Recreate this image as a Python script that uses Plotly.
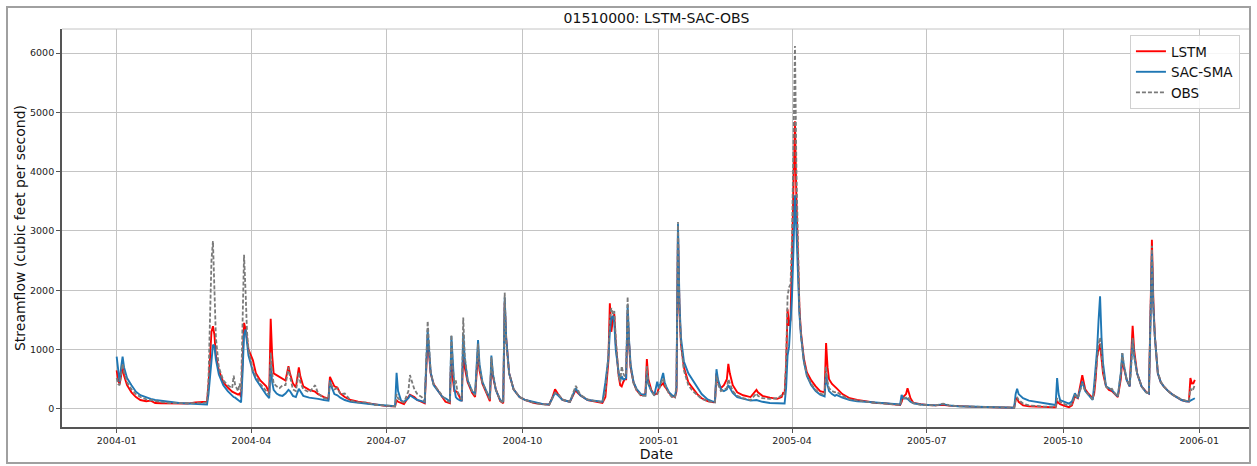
import plotly.graph_objects as go

# ---- daily streamflow, station 01510000 (cfs) ----
# 2004 (month-day), LSTM simulation, SAC-SMA simulation, observed
days_2004 = [
    "01-01", "01-02", "01-03", "01-04", "01-05", "01-06", "01-08", "01-11", "01-14", "01-17",
    "01-21", "01-24", "01-27", "01-31", "02-06", "02-12", "02-18", "02-23", "02-28", "03-02",
    "03-03", "03-04", "03-05", "03-06", "03-07", "03-08", "03-10", "03-13", "03-16", "03-19",
    "03-20", "03-21", "03-23", "03-24", "03-25", "03-26", "03-27", "03-28", "03-29", "03-30",
    "04-01", "04-02", "04-04", "04-07", "04-11", "04-13", "04-14", "04-15", "04-16", "04-18",
    "04-20", "04-22", "04-24", "04-26", "04-27", "04-29",
    "05-01", "05-03", "05-04", "05-06", "05-10", "05-14", "05-16", "05-20", "05-23", "05-24",
    "05-25", "05-27", "05-29", "05-31", "06-03", "06-07", "06-12", "06-17", "06-23", "06-29",
    "07-05", "07-07", "07-08", "07-09", "07-11", "07-13", "07-16", "07-17", "07-20", "07-22",
    "07-25", "07-27", "07-29", "07-30", "07-31",
    "08-02", "08-05", "08-08", "08-10", "08-13", "08-14", "08-15", "08-16", "08-17", "08-18",
    "08-20", "08-21", "08-22", "08-23", "08-25", "08-28", "08-30",
    "09-01", "09-02", "09-04", "09-07", "09-09", "09-10", "09-11", "09-13", "09-16", "09-18",
    "09-19", "09-20", "09-22", "09-25", "09-29", "10-03", "10-09", "10-15", "10-19", "10-21",
    "10-23", "10-25", "10-28",
    "11-02", "11-06", "11-07", "11-09", "11-14", "11-19", "11-24", "11-26", "11-27", "11-28",
    "11-29", "11-30",
    "12-01", "12-02", "12-03", "12-04", "12-05", "12-06", "12-07", "12-08", "12-09", "12-10",
    "12-11", "12-12", "12-13", "12-15", "12-17", "12-20", "12-23", "12-24", "12-25", "12-27",
    "12-29", "12-31",
]
lstm_2004 = [
    650, 480, 420, 560, 700, 560, 400, 280, 200, 150,
    130, 140, 100, 95, 90, 85, 90, 110, 115, 120,
    400, 900, 1300, 1395, 1250, 900, 650, 450, 360, 290,
    280, 270, 240, 260, 200, 800, 1450, 1350, 1150, 1000,
    880, 820, 600, 480, 380, 270, 1520, 900, 600, 570,
    550, 520, 480, 720, 600, 430,
    360, 700, 550, 380, 320, 290, 250, 200, 170, 540,
    480, 380, 360, 260, 200, 150, 120, 100, 75, 55,
    45, 45, 150, 120, 100, 80, 200, 240, 200, 150,
    120, 95, 1200, 900, 600,
    420, 300, 180, 120, 95, 1000, 500, 300, 300, 280,
    180, 130, 1000, 700, 450, 270, 200,
    950, 650, 420, 250, 130, 790, 550, 330, 130, 95,
    1790, 1200, 600, 330, 200, 150, 100, 80, 70, 180,
    330, 250, 150,
    120, 320, 280, 230, 150, 120, 100, 200, 500, 800,
    1780, 1300,
    1500, 1600, 1100, 800, 550, 400, 380, 450, 500, 500,
    1620, 1100, 700, 450, 320, 230, 250, 840, 500, 320,
    240, 260,
]
sac_2004 = [
    880, 600, 450, 700, 880, 700, 520, 400, 290, 230,
    190, 170, 150, 135, 115, 100, 90, 80, 75, 75,
    250, 550, 900, 1080, 1060, 830, 580, 400, 300, 220,
    200, 190, 150, 140, 110, 600, 1250, 1340, 1100, 900,
    720, 620, 500, 380, 240, 180, 750, 450, 320, 260,
    230, 220, 260, 320, 300, 220,
    200, 340, 300, 220, 190, 180, 170, 150, 140, 480,
    380, 250, 230, 190, 150, 120, 100, 90, 75, 60,
    45, 45, 610, 300, 140, 120, 180, 230, 180, 150,
    130, 110, 1330, 950, 620,
    400, 300, 200, 180, 130, 1230, 700, 350, 200, 170,
    140, 140, 1270, 850, 480, 300, 250,
    1160, 750, 450, 280, 180, 900, 600, 320, 150, 120,
    1880, 1200, 600, 330, 200, 150, 110, 80, 75, 170,
    270, 230, 150,
    120, 350, 300, 230, 150, 140, 120, 450, 700, 850,
    1300, 1540,
    1560, 1450, 1000, 750, 600, 480, 550, 500, 500, 520,
    1750, 1150, 750, 450, 340, 250, 230, 600, 420, 300,
    230, 460,
]
obs_2004 = [
    520, 420, 400, 600, 760, 620, 450, 330, 250, 200,
    160, 150, 130, 115, 100, 95, 88, 95, 100, 110,
    500, 1500, 2500, 2830, 2100, 1200, 700, 480, 400, 350,
    560, 400, 300, 430, 300, 1500, 2600, 2000, 1300, 1000,
    800, 650, 560, 420, 300, 230, 950, 600, 430, 380,
    350, 400, 400, 700, 550, 330,
    300, 620, 450, 330, 280, 400, 260, 180, 170, 450,
    400, 330, 350, 250, 260, 140, 110, 110, 70, 55,
    40, 45, 250, 180, 130, 110, 300, 570, 330, 250,
    200, 120, 1480, 1000, 620,
    420, 320, 200, 150, 110, 1250, 700, 400, 480, 300,
    200, 160, 1540, 900, 480, 300, 230,
    1100, 700, 440, 270, 160, 870, 600, 330, 140, 100,
    1960, 1100, 600, 330, 200, 150, 100, 75, 70, 170,
    270, 250, 160,
    120, 390, 340, 240, 160, 130, 110, 300, 600, 900,
    1500, 1700,
    1600, 1650, 1200, 850, 550, 450, 720, 600, 550, 600,
    1890, 1100, 700, 430, 320, 220, 220, 720, 450, 300,
    230, 250,
]

# 2005 (month-day)
days_2005 = [
    "01-01", "01-02", "01-04", "01-05", "01-06", "01-08", "01-10", "01-12", "01-13", "01-14",
    "01-15", "01-16", "01-18", "01-21", "01-24", "01-27", "01-30",
    "02-03", "02-07", "02-08", "02-09", "02-10", "02-12", "02-14", "02-16", "02-17", "02-18",
    "02-20", "02-23", "02-27", "03-04", "03-08", "03-09", "03-12", "03-17", "03-22", "03-25",
    "03-26", "03-27",
    "03-28", "03-29", "03-30", "03-31", "04-01", "04-02", "04-03", "04-04", "04-05", "04-06",
    "04-07", "04-09", "04-11", "04-14", "04-17", "04-20", "04-23", "04-24", "04-25", "04-26",
    "04-28", "04-30",
    "05-01", "05-05", "05-10", "05-15", "05-21", "05-27", "06-02", "06-08", "06-13", "06-14",
    "06-15", "06-17", "06-18", "06-20", "06-22", "06-27", "07-01", "07-07", "07-12", "07-16",
    "07-22", "07-28", "08-03", "08-10", "08-17", "08-23", "08-29",
    "08-30", "08-31", "09-01", "09-04", "09-08", "09-12", "09-18", "09-24", "09-26", "09-27",
    "09-28", "09-29", "10-02", "10-05", "10-07", "10-09", "10-11", "10-13", "10-14", "10-16",
    "10-18", "10-21",
    "10-22", "10-23", "10-24", "10-25", "10-26", "10-27", "10-28", "10-30", "11-01", "11-03",
    "11-05", "11-07", "11-09", "11-10", "11-11", "11-13", "11-15", "11-16", "11-17", "11-18",
    "11-20", "11-23", "11-26", "11-28",
    "11-29", "11-30", "12-01", "12-02", "12-04", "12-06", "12-08", "12-11", "12-14", "12-17",
    "12-20", "12-23", "12-25", "12-26", "12-27", "12-28", "12-29",
]
lstm_2005 = [
    350, 380, 435, 380, 350, 270, 220, 200, 300, 2980,
    1700, 1100, 700, 450, 350, 250, 180,
    130, 110, 120, 600, 450, 350, 400, 500, 760, 600,
    400, 280, 230, 200, 320, 280, 220, 190, 170, 200,
    270, 260,
    700, 1680, 1400, 1500, 2500, 3500, 4850, 3500, 2300, 1700,
    1300, 850, 620, 480, 380, 300, 280, 1110, 700, 500,
    420, 380,
    350, 250, 180, 150, 124, 105, 95, 80, 67, 120,
    200, 250, 350, 180, 100, 80, 67, 60, 70, 55,
    45, 40, 35, 30, 25, 22, 20,
    150, 180, 120, 60, 45, 45, 35, 28, 28, 124,
    100, 80, 50, 30, 60, 210, 180, 450, 570, 330,
    260, 180,
    250, 500, 880, 1000, 1100, 850, 600, 380, 320, 300,
    250, 200, 500, 830, 700, 490, 380, 800, 1400, 1000,
    600, 380, 290, 260,
    1500, 2850, 1800, 1220, 600, 450, 380, 300, 240, 190,
    150, 130, 124, 520, 430, 432, 490,
]
sac_2005 = [
    350, 420, 605, 450, 380, 280, 230, 210, 350, 3120,
    1800, 1200, 800, 600, 480, 380, 250,
    160, 120, 130, 670, 500, 330, 300, 330, 400, 350,
    270, 200, 170, 140, 150, 140, 120, 100, 95, 90,
    85, 90,
    350, 900, 1050, 1400, 1900, 2700, 3600, 3000, 2200, 1600,
    1250, 800, 560, 400, 300, 240, 210, 600, 400, 300,
    250, 220,
    236, 190, 150, 130, 120, 105, 95, 80, 75, 236,
    180, 175, 170, 120, 95, 75, 67, 60, 80, 60,
    45, 40, 35, 30, 25, 22, 20,
    250, 340, 250, 180, 140, 124, 100, 70, 65, 520,
    250, 150, 120, 90, 124, 264, 180, 350, 460, 300,
    240, 150,
    400, 700, 1000, 1500, 1900, 1200, 770, 380, 350, 320,
    260, 210, 600, 940, 750, 490, 380, 700, 1160, 900,
    600, 380, 280, 260,
    1300, 2620, 1700, 1220, 600, 450, 380, 300, 240, 190,
    150, 130, 124, 140, 150, 160, 180,
]
obs_2005 = [
    300, 400, 520, 420, 360, 250, 200, 190, 400, 3150,
    1700, 1100, 650, 400, 300, 230, 170,
    130, 105, 110, 560, 420, 300, 320, 350, 500, 420,
    300, 220, 180, 150, 260, 220, 180, 170, 180, 230,
    260, 250,
    800, 1900, 2050, 2100, 2900, 4500, 6120, 4000, 2500, 1700,
    1250, 800, 580, 420, 320, 260, 230, 710, 450, 350,
    300, 280,
    290, 220, 160, 140, 120, 100, 90, 75, 65, 150,
    170, 190, 208, 130, 95, 70, 65, 60, 90, 60,
    45, 40, 33, 28, 25, 22, 20,
    150, 200, 150, 90, 60, 50, 40, 35, 35, 180,
    150, 120, 80, 50, 80, 230, 180, 340, 430, 300,
    250, 160,
    300, 600, 900, 1100, 1200, 900, 650, 380, 330, 340,
    260, 210, 600, 940, 750, 490, 400, 700, 1200, 900,
    600, 380, 280, 260,
    1400, 2750, 1700, 1220, 620, 460, 380, 300, 240, 200,
    160, 140, 130, 348, 300, 340, 404,
]

tick_dates = ["2004-01-01", "2004-04-01", "2004-07-01", "2004-10-01", "2005-01-01",
              "2005-04-01", "2005-07-01", "2005-10-01", "2006-01-01"]
tick_labels = ["2004-01", "2004-04", "2004-07", "2004-10", "2005-01",
               "2005-04", "2005-07", "2005-10", "2006-01"]
y_ticks = [0, 1000, 2000, 3000, 4000, 5000, 6000]

dates = ["2004-" + d for d in days_2004] + ["2005-" + d for d in days_2005]
lstm = lstm_2004 + lstm_2005
sac_sma = sac_2004 + sac_2005
obs = obs_2004 + obs_2005
assert len(dates) == len(lstm) == len(sac_sma) == len(obs)

FONT = "DejaVu Sans"

fig = go.Figure()
fig.add_trace(go.Scatter(x=dates, y=lstm, name="LSTM", mode="lines",
                         line=dict(color="#ff0000", width=1.9)))
fig.add_trace(go.Scatter(x=dates, y=sac_sma, name="SAC-SMA", mode="lines",
                         line=dict(color="#1f77b4", width=1.9)))
fig.add_trace(go.Scatter(x=dates, y=obs, name="OBS", mode="lines",
                         line=dict(color="#7a7a7a", width=1.8, dash="4px,2px")))

axis_common = dict(
    showgrid=True, gridcolor="#c4c4c4", gridwidth=1,
    zeroline=False,
    showline=True, linecolor="#555555", linewidth=1.8,
    ticks="outside", ticklen=4, tickcolor="#555555", tickwidth=1,
    tickfont=dict(family=FONT, size=9.5, color="#222222"),
)

fig.update_layout(
    width=1257, height=466,
    margin=dict(l=62, r=6, t=29, b=39),
    paper_bgcolor="white", plot_bgcolor="white",
    font=dict(family=FONT, color="#111111"),
    title=dict(text="01510000: LSTM-SAC-OBS", x=0.5, xref="paper", xanchor="center",
               y=1 - 18 / 466, yref="container", yanchor="middle",
               font=dict(family=FONT, size=14, color="#111111")),
    xaxis=dict(axis_common, type="date",
               range=["2003-11-25 02:00", "2006-02-04 22:00"],
               tickmode="array", tickvals=tick_dates, ticktext=tick_labels,
               title=dict(text="Date", standoff=3,
                          font=dict(family=FONT, size=14, color="#111111"))),
    yaxis=dict(axis_common, range=[-305, 6405],
               tickmode="array", tickvals=y_ticks, ticktext=[str(v) for v in y_ticks],
               title=dict(text="Streamflow (cubic feet per second)", standoff=1,
                          font=dict(family=FONT, size=14, color="#111111"))),
    legend=dict(x=0.9907, xanchor="right", y=0.985, yanchor="top",
                bgcolor="rgba(255,255,255,0.85)", bordercolor="#d0d0d0", borderwidth=1,
                font=dict(family=FONT, size=13.5, color="#111111"),
                itemwidth=30, tracegroupgap=0),
    showlegend=True,
    shapes=[
        # light top edge of the axes box
        dict(type="line", xref="paper", yref="paper", x0=0, x1=1, y0=1, y1=1,
             line=dict(color="#c4c4c4", width=1)),
        # frame around the whole figure
        dict(type="rect", xref="paper", yref="paper",
             x0=-0.04626, x1=0.99916, y0=-0.09045, y1=1.0553,
             line=dict(color="#a0a0a0", width=2), layer="above"),
    ],
)

fig.write_html("out.html")
